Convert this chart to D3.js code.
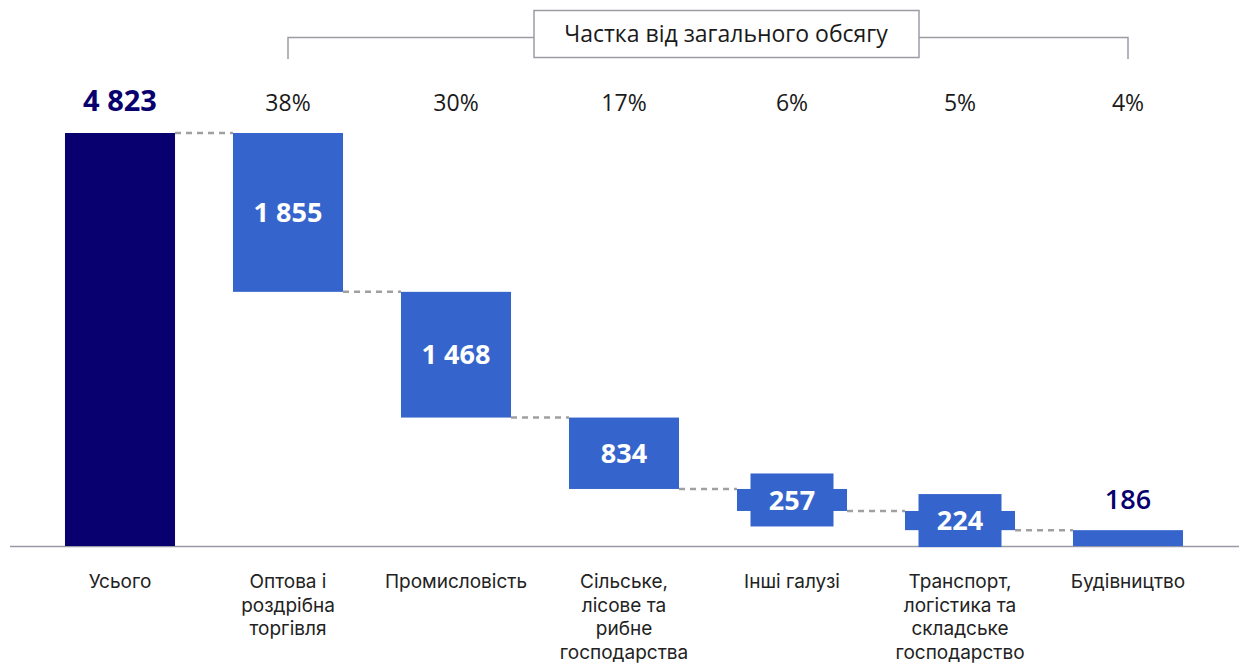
<!DOCTYPE html>
<html>
<head>
<meta charset="utf-8">
<script src="https://cdn.jsdelivr.net/npm/d3@7"></script>
<style>
  body { margin: 0; background: #fff; }
  text { font-family: "Open Sans", Roboto, sans-serif; }
  .cat { font-family: Inter, "Open Sans", sans-serif; }
</style>
</head>
<body>
<div id="chart"></div>
<script>
// Data
var categories = ["Усього", "Оптова і\nроздрібна\nторгівля", "Промисловість", "Сільське,\nлісове та\nрибне\nгосподарства", "Інші галузі", "Транспорт,\nлогістика та\nскладське\nгосподарство", "Будівництво"]
var values = [4823, 1855, 1468, 834, 257, 224, 186]
var valueLabels = ["4 823", "1 855", "1 468", "834", "257", "224", "186"]
var shares = ["", "38%", "30%", "17%", "6%", "5%", "4%"]
var bracketTitle = "Частка від загального обсягу"

var width = 1239, height = 666
var navy = "#07006e", blue = "#3565cc", grey = "#9c9ca4"

// Waterfall start / end per bar
var bars = []
var running = values[0]
categories.forEach((c, i) => {
    if (i == 0) {
        bars.push({cat: c, y0: 0, y1: values[0], i: i})
    } else {
        bars.push({cat: c, y0: running - values[i], y1: running, i: i})
        running -= values[i]
    }
})

var xScale = d3.scaleBand().domain(categories).range([36, 1212]).paddingInner(0.345).paddingOuter(0.1725)
var yScale = d3.scaleLinear().domain([0, values[0]]).range([546, 133])

var svg = d3.select("#chart").append("svg")
    .attr("width", width)
    .attr("height", height)

// baseline
svg.append("line")
    .attr("x1", 10).attr("x2", width)
    .attr("y1", yScale(0) + 0.5).attr("y2", yScale(0) + 0.5)
    .style("stroke", "#9a9aa6").style("stroke-width", 1.5)

// dashed connectors
for (var i = 0; i < bars.length - 1; i++) {
    var lvl = i == 0 ? bars[0].y1 : bars[i].y0
    svg.append("line")
        .attr("x1", xScale(bars[i].cat) + xScale.bandwidth())
        .attr("x2", xScale(bars[i + 1].cat))
        .attr("y1", yScale(lvl)).attr("y2", yScale(lvl))
        .style("stroke", "#a0a0a0").style("stroke-width", 2.5)
        .style("stroke-dasharray", "6,5")
}

// bars
svg.selectAll(".bar")
    .data(bars)
    .enter()
    .append("rect")
    .attr("class", "bar")
    .attr("x", d => xScale(d.cat))
    .attr("y", d => yScale(d.y1))
    .attr("width", xScale.bandwidth())
    .attr("height", d => yScale(d.y0) - yScale(d.y1))
    .style("fill", d => d.i == 0 ? navy : blue)

// value labels
bars.forEach(d => {
    var cx = xScale(d.cat) + xScale.bandwidth() / 2
    var h = yScale(d.y0) - yScale(d.y1)
    if (d.i == 0) {
        svg.append("text")
            .attr("x", cx).attr("y", 111)
            .attr("text-anchor", "middle")
            .style("font-size", "29px").style("font-weight", 700)
            .style("fill", navy)
            .text(valueLabels[d.i])
    } else if (d.i == bars.length - 1) {
        svg.append("text")
            .attr("x", cx).attr("y", yScale(d.y1) - 21)
            .attr("text-anchor", "middle")
            .style("font-size", "27px").style("font-weight", 600)
            .style("fill", navy)
            .text(valueLabels[d.i])
    } else {
        var cy = (yScale(d.y0) + yScale(d.y1)) / 2
        if (h < 50) {
            // label box for thin bars
            svg.append("rect")
                .attr("x", cx - 41.5).attr("y", cy - 26.5)
                .attr("width", 83).attr("height", 53)
                .style("fill", blue)
        }
        svg.append("text")
            .attr("x", cx).attr("y", cy)
            .attr("dy", "0.36em")
            .attr("text-anchor", "middle")
            .style("font-size", "27px").style("font-weight", 700)
            .style("fill", "#fff")
            .text(valueLabels[d.i])
    }
})

// share labels
bars.forEach(d => {
    if (shares[d.i] == "") return
    svg.append("text")
        .attr("x", xScale(d.cat) + xScale.bandwidth() / 2)
        .attr("y", 111)
        .attr("text-anchor", "middle")
        .style("font-size", "23px")
        .style("fill", "#1a1a1a")
        .text(shares[d.i])
})

// bracket
var bx1 = xScale(categories[1]) + xScale.bandwidth() / 2
var bx2 = xScale(categories[categories.length - 1]) + xScale.bandwidth() / 2
svg.append("path")
    .attr("d", "M" + bx1 + ",59V37.5H" + bx2 + "V59")
    .style("fill", "none").style("stroke", grey).style("stroke-width", 1.5)

var boxCx = 726
svg.append("rect")
    .attr("x", 534).attr("y", 10.5)
    .attr("width", 385).attr("height", 47)
    .style("fill", "#fff").style("stroke", grey).style("stroke-width", 1.5)
svg.append("text")
    .attr("x", boxCx).attr("y", 34)
    .attr("dy", "0.36em")
    .attr("text-anchor", "middle")
    .style("font-size", "23px")
    .style("fill", "#1a1a1a")
    .text(bracketTitle)

// category labels
categories.forEach(c => {
    var t = svg.append("text")
        .attr("class", "cat")
        .attr("x", xScale(c) + xScale.bandwidth() / 2)
        .attr("y", 588)
        .attr("text-anchor", "middle")
        .style("font-size", "19px")
        .style("fill", "#222")
    c.split("\n").forEach((line, k) => {
        t.append("tspan")
            .attr("x", xScale(c) + xScale.bandwidth() / 2)
            .attr("dy", k == 0 ? 0 : 23.5)
            .text(line)
    })
})
</script>
</body>
</html>
